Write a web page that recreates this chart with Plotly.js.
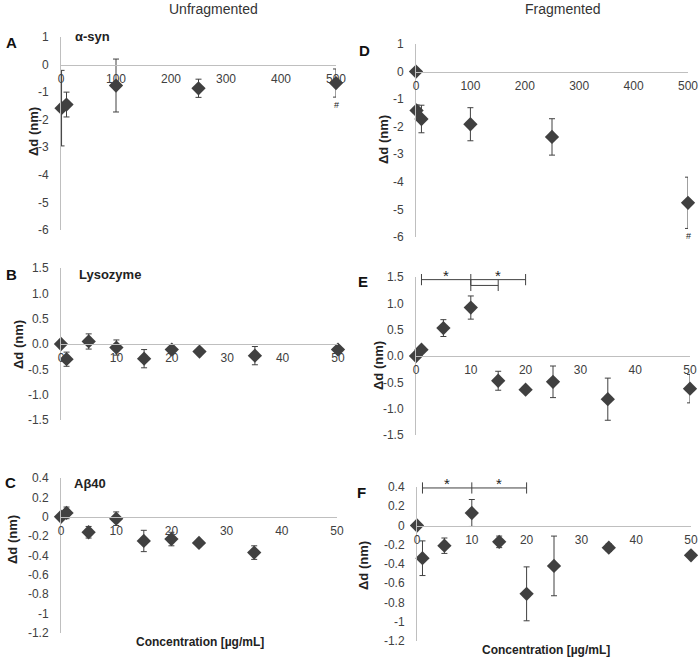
<!DOCTYPE html>
<html>
<head>
<meta charset="utf-8">
<script src="https://cdn.plot.ly/plotly-3.0.1.min.js"></script>
<style>html,body{margin:0;padding:0;background:#fff;}#chart{width:700px;height:657px;}</style>
</head>
<body>
<div id="chart"></div>
<script>
// ---- Data ----
// A: alpha-syn, unfragmented
const concA = [1, 10, 100, 250, 500];
const dA    = [-1.58, -1.45, -0.76, -0.86, -0.67];
const errA  = [1.37, 0.45, 0.96, 0.33, 0.51];
// D: alpha-syn, fragmented
const concD = [0, 1, 10, 100, 250, 500];
const dD    = [0, -1.41, -1.72, -1.91, -2.37, -4.76];
const errD  = [0, 0.2, 0.5, 0.6, 0.66, 0.93];
// B: Lysozyme, unfragmented
const concB = [0, 1, 5, 10, 15, 20, 25, 35, 50];
const dB    = [0, -0.3, 0.05, -0.07, -0.29, -0.11, -0.15, -0.23, -0.11];
const errB  = [0, 0.14, 0.15, 0.15, 0.18, 0.06, 0.03, 0.18, 0.05];
// E: Lysozyme, fragmented
const concE = [0, 1, 5, 10, 15, 20, 25, 35, 50];
const dE    = [0, 0.12, 0.53, 0.92, -0.47, -0.64, -0.49, -0.82, -0.62];
const errE  = [0, 0.03, 0.16, 0.22, 0.18, 0.03, 0.3, 0.4, 0.27];
// C: Abeta40, unfragmented
const concC = [0, 1, 5, 10, 15, 20, 25, 35];
const dC    = [0, 0.04, -0.16, -0.02, -0.25, -0.23, -0.27, -0.37];
const errC  = [0, 0.06, 0.06, 0.07, 0.11, 0.07, 0.01, 0.07];
// F: Abeta40, fragmented
const concF = [0, 1, 5, 10, 15, 20, 25, 35, 50];
const dF    = [0, -0.34, -0.21, 0.13, -0.17, -0.71, -0.42, -0.23, -0.31];
const errF  = [0, 0.18, 0.08, 0.14, 0.06, 0.28, 0.31, 0.04, 0.02];

// significance brackets
const bracketE1X = [1, 10, 20];  const bracketE1Y = 1.45;
const bracketE2X = [10, 15];     const bracketE2Y = 1.34;
const bracketF1X = [1, 10, 20];  const bracketF1Y = 0.39;
const starsEX = [5.5, 15];
const starsFX = [5.5, 15];

// tick labels
const ticksXbig = [0, 100, 200, 300, 400, 500];
const ticksXsmall = [0, 10, 20, 30, 40, 50];
const ticksYAD = [-6, -5, -4, -3, -2, -1, 0, 1];
const ticksYBE = [-1.5, -1.0, -0.5, 0.0, 0.5, 1.0, 1.5];
const ticksYCF = [-1.2, -1, -0.8, -0.6, -0.4, -0.2, 0, 0.2, 0.4];

const labelsYAD = ticksYAD.map(v => String(v));
const labelsYBE = ticksYBE.map(v => v.toFixed(1));
const labelsYCF = ticksYCF.map(v => String(v));

// ---- Layout helpers ----
const W = 700, H = 657;
const MK = '#404040';
const AX = '#bfbfbf';
const FONT = 'Liberation Sans, Arial, sans-serif';

const panels = [
  {id:'',  x:concA, y:dA, e:errA, px:[61,336], py:[37,230],  xr:[0,500], yr:[-6,1],     xt:ticksXbig,   yt:ticksYAD, yl:labelsYAD},
  {id:'2', x:concD, y:dD, e:errD, px:[416,688], py:[44,237], xr:[0,500], yr:[-6,1],     xt:ticksXbig,   yt:ticksYAD, yl:labelsYAD},
  {id:'3', x:concB, y:dB, e:errB, px:[61,338], py:[268,420], xr:[0,50],  yr:[-1.5,1.5], xt:ticksXsmall, yt:ticksYBE, yl:labelsYBE},
  {id:'4', x:concE, y:dE, e:errE, px:[416,690], py:[277,435], xr:[0,50],  yr:[-1.5,1.5], xt:ticksXsmall, yt:ticksYBE, yl:labelsYBE},
  {id:'5', x:concC, y:dC, e:errC, px:[61,337], py:[478,633], xr:[0,50],  yr:[-1.2,0.4], xt:ticksXsmall, yt:ticksYCF, yl:labelsYCF},
  {id:'6', x:concF, y:dF, e:errF, px:[417,691], py:[487,641], xr:[0,50],  yr:[-1.2,0.4], xt:ticksXsmall, yt:ticksYCF, yl:labelsYCF}
];

const data = [];
const layout = {
  width: W, height: H,
  margin: {l:0, r:0, t:0, b:0},
  paper_bgcolor: '#fff', plot_bgcolor: 'rgba(0,0,0,0)',
  showlegend: false,
  font: {family: FONT, size: 12, color: '#404040'},
  annotations: []
};

panels.forEach(p => {
  const xa = 'x' + p.id, ya = 'y' + p.id;
  data.push({
    type: 'scatter', mode: 'markers', x: p.x, y: p.y,
    xaxis: xa, yaxis: ya, cliponaxis: false,
    marker: {symbol: 'diamond', size: 11, color: MK},
    error_y: {type: 'data', array: p.e, visible: true, color: MK, thickness: 1, width: 3}
  });
  const ydom = [1 - p.py[1]/H, 1 - p.py[0]/H];
  const frac0 = (0 - p.yr[0]) / (p.yr[1] - p.yr[0]);
  const pos0 = ydom[0] + frac0 * (ydom[1] - ydom[0]);
  layout['xaxis' + p.id] = {
    domain: [p.px[0]/W, p.px[1]/W], range: p.xr, anchor: 'free', position: pos0,
    showline: true, linecolor: AX, linewidth: 1, showgrid: false, zeroline: false,
    ticks: '', tickvals: p.xt, ticktext: p.xt.map(String), ticklabelstandoff: 3,
    tickfont: {size: 12, color: '#404040'}, fixedrange: true
  };
  layout['yaxis' + p.id] = {
    domain: ydom, range: p.yr, anchor: xa,
    showline: true, linecolor: AX, linewidth: 1, showgrid: false, zeroline: false,
    ticks: '', tickvals: p.yt, ticktext: p.yl, ticklabelstandoff: 9,
    tickfont: {size: 12, color: '#404040'}, fixedrange: true
  };
});

// brackets
function bracket(xs, yv, xa, ya) {
  data.push({
    type: 'scatter', mode: 'lines+markers', x: xs, y: xs.map(() => yv),
    xaxis: xa, yaxis: ya, cliponaxis: false,
    line: {color: MK, width: 1},
    marker: {symbol: 'line-ns', size: 8, color: MK, line: {color: MK, width: 1}}
  });
}
bracket(bracketE1X, bracketE1Y, 'x4', 'y4');
bracket(bracketE2X, bracketE2Y, 'x4', 'y4');
bracket(bracketF1X, bracketF1Y, 'x6', 'y6');

const ann = layout.annotations;
starsEX.forEach(x => ann.push({xref:'x4', yref:'y4', x: x, y: bracketE1Y, text:'*', showarrow:false, yanchor:'bottom', yshift:-6, font:{size:15, color:'#222'}}));
starsFX.forEach(x => ann.push({xref:'x6', yref:'y6', x: x, y: bracketF1Y, text:'*', showarrow:false, yanchor:'bottom', yshift:-6, font:{size:15, color:'#222'}}));

// # marks
ann.push({xref:'x', yref:'y', x: concA[4], y: dA[4] - errA[4], text:'#', showarrow:false, yanchor:'top', yshift:-1, font:{size:9, color:'#222'}});
ann.push({xref:'x2', yref:'y2', x: concD[5], y: dD[5] - errD[5], text:'#', showarrow:false, yanchor:'top', yshift:-1, font:{size:9, color:'#222'}});

// paper-positioned texts
function pt(text, x, y, opts) {
  ann.push(Object.assign({xref:'paper', yref:'paper', x: x/W, y: 1 - y/H, text: text, showarrow:false,
    xanchor:'center', yanchor:'middle'}, opts || {}));
}
pt('Unfragmented', 213, 9, {font:{size:14, color:'#333'}});
pt('Fragmented', 562, 9, {font:{size:14, color:'#333'}});

const letterFont = {size:15, color:'#111', family: FONT};
pt('<b>A</b>', 11, 43, {font:letterFont});
pt('<b>D</b>', 364, 50, {font:letterFont});
pt('<b>B</b>', 11, 275, {font:letterFont});
pt('<b>E</b>', 363, 281, {font:letterFont});
pt('<b>C</b>', 10, 482, {font:letterFont});
pt('<b>F</b>', 361, 492, {font:letterFont});

const seriesFont = {size:13, color:'#222'};
pt('<b>α-syn</b>', 73, 36, {xanchor:'left', font:seriesFont});
pt('<b>Lysozyme</b>', 77, 274, {xanchor:'left', font:seriesFont});
pt('<b>Aβ40</b>', 72, 483, {xanchor:'left', font:seriesFont});

const yTitleFont = {size:13, color:'#222'};
pt('<b>Δd (nm)</b>', 33, 132, {textangle:-90, font:yTitleFont});
pt('<b>Δd (nm)</b>', 383, 140, {textangle:-90, font:yTitleFont});
pt('<b>Δd (nm)</b>', 18, 345, {textangle:-90, font:yTitleFont});
pt('<b>Δd (nm)</b>', 378, 366, {textangle:-90, font:yTitleFont});
pt('<b>Δd (nm)</b>', 12, 540, {textangle:-90, font:yTitleFont});
pt('<b>Δd (nm)</b>', 363, 566, {textangle:-90, font:yTitleFont});

const xTitleFont = {size:12, color:'#222'};
pt('<b>Concentration [µg/mL]</b>', 200, 642, {font:xTitleFont});
pt('<b>Concentration [µg/mL]</b>', 546, 650, {font:xTitleFont});

Plotly.newPlot('chart', data, layout, {staticPlot: true, displayModeBar: false});
</script>
</body>
</html>
